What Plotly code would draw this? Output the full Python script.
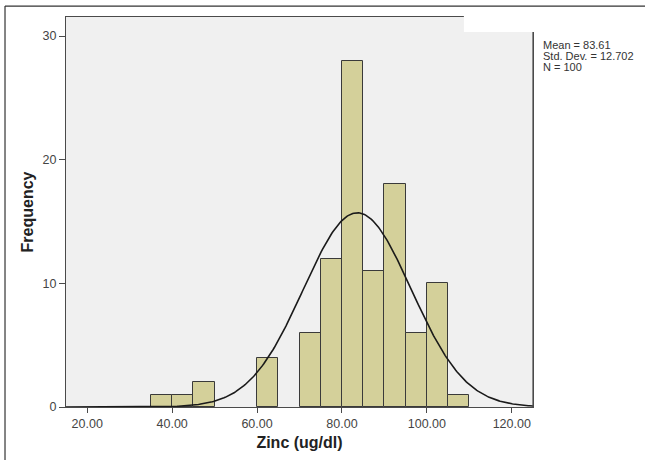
import numpy as np
import plotly.graph_objects as go

# Histogram bins (left edges, width 5) and counts
bin_starts = [35, 40, 45, 60, 70, 75, 80, 85, 90, 95, 100, 105]
counts = [1, 1, 2, 4, 6, 12, 28, 11, 18, 6, 10, 1]
bin_width = 5

mean_val = 83.61
std_val = 12.702
n_val = 100

x_ticks = [20, 40, 60, 80, 100, 120]
y_ticks = [0, 10, 20, 30]

stats_lines = ["Mean = 83.61", "Std. Dev. = 12.702", "N = 100"]

centers = [s + bin_width / 2 for s in bin_starts]

# Fitted normal curve (SPSS overlay) from stated mean / sd / N
xs = np.linspace(15, 125, 400)
ys = n_val * bin_width / (std_val * np.sqrt(2 * np.pi)) * np.exp(-0.5 * ((xs - mean_val) / std_val) ** 2)

fig = go.Figure()
fig.add_trace(go.Bar(
    x=centers, y=counts, width=bin_width,
    marker=dict(color="#d4d09a", line=dict(color="#3a3a3a", width=1)),
    showlegend=False, hoverinfo="skip",
))
fig.add_trace(go.Scatter(
    x=xs, y=ys, mode="lines",
    line=dict(color="#1a1a1a", width=1.6),
    showlegend=False, hoverinfo="skip",
))

FONT = "Liberation Sans, Arial, sans-serif"

annotations = []
for i, t in enumerate(stats_lines):
    annotations.append(dict(
        xref="paper", yref="paper", x=1.017, y=(407 - 45 - 11 * i) / 390,
        xanchor="left", yanchor="middle", align="left", showarrow=False,
        text=t, font=dict(size=11, color="#333333", family=FONT),
    ))

fig.update_layout(
    width=645, height=460,
    margin=dict(l=66, r=112, t=17, b=53, autoexpand=False),
    paper_bgcolor="white",
    plot_bgcolor="#f0f0f0",
    bargap=0,
    font=dict(family=FONT, color="#333333", size=11),
    xaxis=dict(
        range=[15, 125], tickvals=x_ticks, tickformat=".2f",
        showgrid=False, zeroline=False,
        showline=True, linecolor="#4a4a4a", linewidth=1.2, mirror=True,
        ticks="outside", ticklen=5, tickcolor="#4a4a4a",
        tickfont=dict(size=12.5, color="#444444"),
        title=dict(text="<b>Zinc (ug/dl)</b>", font=dict(size=16, color="#222222"), standoff=6),
    ),
    yaxis=dict(
        range=[0, 31.54], tickvals=y_ticks,
        showgrid=False, zeroline=False,
        showline=True, linecolor="#4a4a4a", linewidth=1.2, mirror=True,
        ticks="outside", ticklen=6, tickcolor="#4a4a4a",
        tickfont=dict(size=12.5, color="#444444"),
        title=dict(text="<b>Frequency</b>", font=dict(size=16, color="#222222"), standoff=4),
    ),
    shapes=[
        # white notch over top-right of frame
        dict(type="rect", xref="paper", yref="paper", x0=0.852, x1=1.006, y0=0.9615, y1=1.02,
             fillcolor="white", line=dict(width=0), layer="above"),
        # right frame line restarting below the notch
        dict(type="line", xref="paper", yref="paper", x0=1.0, x1=1.0, y0=0.0, y1=0.9615,
             line=dict(color="#4a4a4a", width=1.2), layer="above"),
        # outer border: top and left
        dict(type="line", xref="paper", yref="paper", x0=-0.1306, x1=1.25, y0=1.028, y1=1.028,
             line=dict(color="#333333", width=1.2)),
        dict(type="line", xref="paper", yref="paper", x0=-0.1306, x1=-0.1306, y0=-0.15, y1=1.028,
             line=dict(color="#333333", width=1.2)),
    ],
    annotations=annotations,
)

fig.write_html("out.html", config={"displayModeBar": False},
               post_script="document.body.style.margin='0';")
